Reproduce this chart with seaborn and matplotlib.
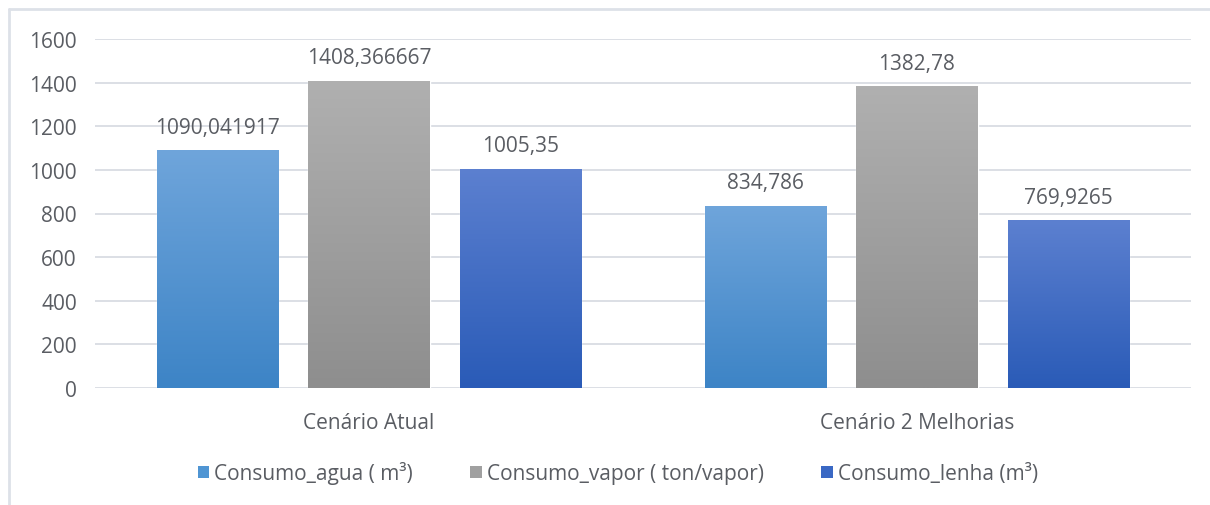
import numpy as np
import pandas as pd
import matplotlib
matplotlib.use("Agg")
import matplotlib.pyplot as plt
from matplotlib.colors import LinearSegmentedColormap
from matplotlib.patches import Patch
from matplotlib.lines import Line2D
import seaborn as sns

# Data
cenarios = ["Cenário Atual", "Cenário 2 Melhorias"]
series = ["Consumo_agua ( m³)", "Consumo_vapor ( ton/vapor)", "Consumo_lenha (m³)"]
consumo_agua = [1090.041917, 834.786]
consumo_vapor = [1408.366667, 1382.78]
consumo_lenha = [1005.35, 769.9265]
value_labels = [["1090,041917", "834,786"],
                ["1408,366667", "1382,78"],
                ["1005,35", "769,9265"]]
yticks = [0, 200, 400, 600, 800, 1000, 1200, 1400, 1600]

# Gradient colours (top, bottom) per series
grad = [("#6fa5db", "#3d84c6"), ("#b0b0b0", "#8e8e8e"), ("#5c80d0", "#2a5bb7")]
legend_colors = ["#4f95d3", "#a0a0a0", "#3a68c4"]

df = pd.DataFrame({
    "cenario": cenarios * 3,
    "serie": [series[0]] * 2 + [series[1]] * 2 + [series[2]] * 2,
    "valor": consumo_agua + consumo_vapor + consumo_lenha,
})

sns.set_theme(style="white")
plt.rcParams["font.family"] = ["Open Sans", "DejaVu Sans"]
text_color = "#5a5d63"
fs = 15

fig = plt.figure(figsize=(12.10, 5.06), dpi=100)
ax = fig.add_axes([95 / 1210, 1 - 389 / 506, (1191 - 95) / 1210, (389 - 40) / 506])

sns.barplot(data=df, x="cenario", y="valor", hue="serie", order=cenarios,
            hue_order=series, palette=legend_colors, width=0.83,
            errorbar=None, legend=False, ax=ax, saturation=1)

ax.set_xlim(-0.5, 1.5)
ax.set_ylim(0, 1600)
ax.set_yticks(yticks)
ax.set_yticklabels([str(t) for t in yticks])
ax.yaxis.grid(True, color="#d9dce3", linewidth=1.3)
ax.set_axisbelow(True)
for s in ax.spines.values():
    s.set_visible(False)
ax.set_xlabel("")
ax.set_ylabel("")
ax.tick_params(axis="y", length=0, pad=13, labelsize=fs, labelcolor=text_color)
ax.tick_params(axis="x", length=0, pad=17, labelsize=fs, labelcolor=text_color)

# Narrow each bar to leave gaps and apply a vertical gradient
bar_w = 0.222
for i, container in enumerate(ax.containers):
    cmap = LinearSegmentedColormap.from_list(f"g{i}", [grad[i][1], grad[i][0]])
    for j, patch in enumerate(container.patches):
        cx = patch.get_x() + patch.get_width() / 2
        patch.set_x(cx - bar_w / 2)
        patch.set_width(bar_w)
        h = patch.get_height()
        img = ax.imshow(np.linspace(0, 1, 256).reshape(-1, 1), cmap=cmap,
                        origin="lower", aspect="auto",
                        extent=[cx - bar_w / 2, cx + bar_w / 2, 0, h], zorder=2)
        img.set_clip_path(patch)
        ax.annotate(value_labels[i][j], (cx, h), xytext=(0, 9),
                    textcoords="offset points", ha="center", va="bottom",
                    fontsize=fs, color=text_color)
ax.set_xlim(-0.5, 1.5)
ax.set_ylim(0, 1600)

handles = [Patch(facecolor=c, edgecolor="none") for c in legend_colors]
fig.legend(handles, series, loc="center", bbox_to_anchor=(618 / 1210, 1 - 474 / 506),
           ncol=3, frameon=False, fontsize=fs, labelcolor=text_color,
           handlelength=0.55, handleheight=0.55, handletextpad=0.25, columnspacing=2.75)

# Light frame along the top and left edges
fig.add_artist(Line2D([9 / 1210, 1], [1 - 10 / 506, 1 - 10 / 506],
                      color="#dde1e8", linewidth=2, transform=fig.transFigure))
fig.add_artist(Line2D([9 / 1210, 9 / 1210], [0, 1 - 10 / 506],
                      color="#dde1e8", linewidth=2, transform=fig.transFigure))

fig.savefig("out.png", dpi=100, facecolor="white")
